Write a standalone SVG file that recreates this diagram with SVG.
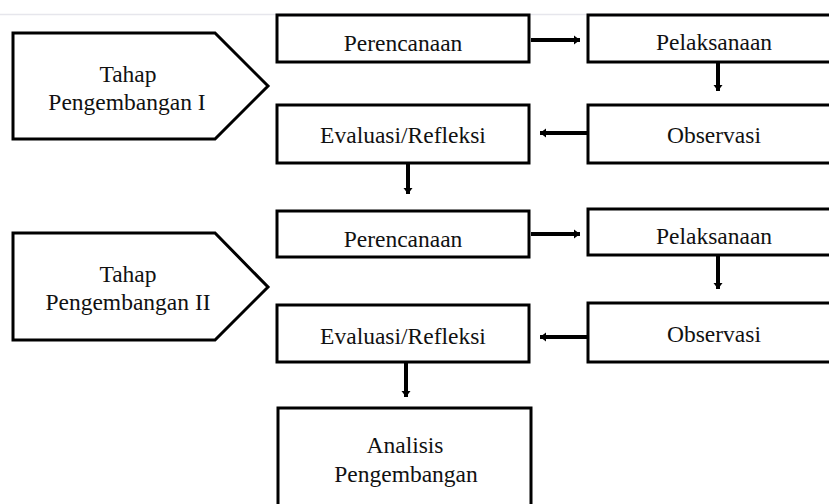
<svg xmlns="http://www.w3.org/2000/svg" width="829" height="504" viewBox="0 0 829 504">
<style>
.box{fill:#fff;stroke:#000;stroke-width:3}
.t{font-family:"Liberation Serif","Times New Roman",serif;font-size:23.5px;fill:#111;text-anchor:middle}
.c{stroke:#000;stroke-width:4;fill:none;marker-end:url(#ah)}
</style>
<defs>
<marker id="ah" markerUnits="userSpaceOnUse" markerWidth="10" markerHeight="10" viewBox="0 0 10 10" refX="9" refY="5" orient="auto">
<path d="M3,0.5 L9,5 L3,9.5 Z" fill="#000"/>
</marker>
</defs>
<rect width="829" height="504" fill="#fff"/>
<line x1="0" y1="14.5" x2="829" y2="14.5" stroke="#e6e6ec" stroke-width="1.5"/>
<g id="connectors">
<line class="c" x1="531" y1="40" x2="580" y2="40"/>
<line class="c" x1="718" y1="63" x2="718" y2="91"/>
<line class="c" x1="587" y1="133" x2="540" y2="133"/>
<line class="c" x1="408" y1="164" x2="408" y2="194"/>
<line class="c" x1="531" y1="234" x2="580" y2="234"/>
<line class="c" x1="718" y1="256" x2="718" y2="289"/>
<line class="c" x1="587" y1="337" x2="540" y2="337"/>
<line class="c" x1="406" y1="363" x2="406" y2="397"/>
</g>
<g id="tahap1">
<path class="box" d="M13,33 H215 L268,86 L215,139 H13 Z"/>
<text class="t" x="128" y="82">Tahap</text>
<text class="t" x="127" y="110">Pengembangan I</text>
</g>
<g id="perencanaan1">
<rect class="box" x="277" y="15" width="252" height="47"/>
<text class="t" x="403" y="51">Perencanaan</text>
</g>
<g id="pelaksanaan1">
<rect class="box" x="588" y="15" width="250" height="47"/>
<text class="t" x="714" y="50">Pelaksanaan</text>
</g>
<g id="observasi1">
<rect class="box" x="588" y="105" width="250" height="58"/>
<text class="t" x="714" y="143">Observasi</text>
</g>
<g id="evaluasi1">
<rect class="box" x="277" y="105" width="252" height="58"/>
<text class="t" x="403" y="143">Evaluasi/Refleksi</text>
</g>
<g id="tahap2">
<path class="box" d="M13,233 H215 L268,287 L215,340 H13 Z"/>
<text class="t" x="128" y="282">Tahap</text>
<text class="t" x="128" y="310">Pengembangan II</text>
</g>
<g id="perencanaan2">
<rect class="box" x="277" y="211" width="252" height="46"/>
<text class="t" x="403" y="247">Perencanaan</text>
</g>
<g id="pelaksanaan2">
<rect class="box" x="588" y="209" width="250" height="46"/>
<text class="t" x="714" y="244">Pelaksanaan</text>
</g>
<g id="observasi2">
<rect class="box" x="588" y="303" width="250" height="59"/>
<text class="t" x="714" y="342">Observasi</text>
</g>
<g id="evaluasi2">
<rect class="box" x="277" y="305" width="252" height="57"/>
<text class="t" x="403" y="344">Evaluasi/Refleksi</text>
</g>
<g id="analisis">
<rect class="box" x="278" y="408" width="253" height="110"/>
<text class="t" x="405" y="453">Analisis</text>
<text class="t" x="406" y="482">Pengembangan</text>
</g>
</svg>
